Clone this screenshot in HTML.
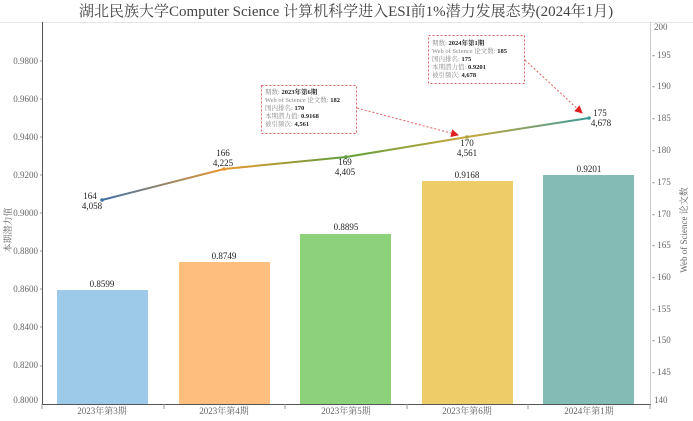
<!DOCTYPE html>
<html><head><meta charset="utf-8"><style>
body{margin:0;background:#fff}
svg{font-family:"Liberation Serif","Noto Serif CJK SC",serif}
</style></head><body>
<svg width="693" height="416" viewBox="0 0 693 416" xmlns="http://www.w3.org/2000/svg">
<defs>
<linearGradient id="lg" x1="102" y1="0" x2="589" y2="0" gradientUnits="userSpaceOnUse">
<stop offset="0" stop-color="#3f6fa8"/><stop offset="0.25" stop-color="#e8982e"/><stop offset="0.5" stop-color="#5f9e3a"/><stop offset="0.75" stop-color="#c8a63a"/><stop offset="1" stop-color="#3f9a9a"/>
</linearGradient>
<marker id="ar" markerWidth="8" markerHeight="8" refX="7" refY="4" orient="auto" markerUnits="userSpaceOnUse"><path d="M0,0 L8,4 L0,8z" fill="#e02020"/></marker>
</defs>
<text x="346" y="16" text-anchor="middle" font-size="15" fill="#444">湖北民族大学Computer Science  计算机科学进入ESI前1%潜力发展态势(2024年1月)</text>
<line x1="0" y1="22.5" x2="693" y2="22.5" stroke="#e6e6e6"/>
<rect x="57" y="290" width="91" height="114" fill="#9ecae9"/>
<rect x="179" y="262" width="91" height="142" fill="#fdbe7e"/>
<rect x="300" y="234" width="91" height="170" fill="#8dd17b"/>
<rect x="422" y="181" width="91" height="223" fill="#eecd68"/>
<rect x="543" y="175" width="91" height="229" fill="#84bbb4"/>
<g font-size="9" text-anchor="middle" fill="#222">
<text x="102" y="287">0.8599</text><text x="224" y="259">0.8749</text><text x="346" y="230">0.8895</text><text x="467" y="178">0.9168</text><text x="589" y="172">0.9201</text>
</g>
<line x1="42.5" y1="22" x2="42.5" y2="404" stroke="#555"/>
<line x1="42" y1="404.5" x2="651" y2="404.5" stroke="#555"/>
<line x1="650.5" y1="22" x2="650.5" y2="404" stroke="#ccc"/>
<g font-size="9" fill="#666" text-anchor="end">
<text x="38" y="64">0.9800</text><text x="38" y="102">0.9600</text><text x="38" y="140">0.9400</text><text x="38" y="178">0.9200</text><text x="38" y="216">0.9000</text><text x="38" y="254">0.8800</text><text x="38" y="292">0.8600</text><text x="38" y="330">0.8400</text><text x="38" y="368">0.8200</text><text x="38" y="403">0.8000</text>
</g>
<g stroke="#999"><line x1="40" y1="61" x2="42" y2="61"/><line x1="40" y1="99" x2="42" y2="99"/><line x1="40" y1="137" x2="42" y2="137"/><line x1="40" y1="175" x2="42" y2="175"/><line x1="40" y1="213" x2="42" y2="213"/><line x1="40" y1="251" x2="42" y2="251"/><line x1="40" y1="289" x2="42" y2="289"/><line x1="40" y1="327" x2="42" y2="327"/><line x1="40" y1="366" x2="42" y2="366"/>
<line x1="42" y1="404" x2="42" y2="409"/><line x1="164" y1="404" x2="164" y2="409"/><line x1="285" y1="404" x2="285" y2="409"/><line x1="407" y1="404" x2="407" y2="409"/><line x1="528" y1="404" x2="528" y2="409"/><line x1="650" y1="404" x2="650" y2="409"/></g>
<g font-size="9" fill="#666">
<text x="654" y="30">200</text><text x="652" y="58">- 195</text><text x="652" y="89">- 190</text><text x="652" y="121">- 185</text><text x="652" y="153">- 180</text><text x="652" y="185">- 175</text><text x="652" y="217">- 170</text><text x="652" y="248">- 165</text><text x="652" y="280">- 160</text><text x="652" y="312">- 155</text><text x="652" y="343">- 150</text><text x="652" y="375">- 145</text><text x="654" y="403">140</text>
</g>
<g font-size="9" fill="#666" text-anchor="middle">
<text x="102" y="414">2023年第3期</text><text x="224" y="414">2023年第4期</text><text x="346" y="414">2023年第5期</text><text x="467" y="414">2023年第6期</text><text x="589" y="414">2024年第1期</text>
</g>
<text transform="translate(11,230) rotate(-90)" font-size="9" fill="#666" text-anchor="middle">本期潜力值</text>
<text transform="translate(687,230) rotate(-90)" font-size="9" fill="#666" text-anchor="middle">Web of Science 论文数</text>
<polyline points="102,200 224,169 346,157 467,137 589,118" fill="none" stroke="url(#lg)" stroke-width="2"/>
<g><circle cx="102" cy="200" r="1.8" fill="#3f6fa8"/><circle cx="224" cy="169" r="1.8" fill="#e8982e"/><circle cx="346" cy="157" r="1.8" fill="#5f9e3a"/><circle cx="467" cy="137" r="1.8" fill="#b0a040"/><circle cx="589" cy="118" r="1.8" fill="#3f9a9a"/></g>
<g font-size="9" fill="#222" text-anchor="middle">
<text x="90" y="199">164</text><text x="92" y="209">4,058</text>
<text x="223" y="156">166</text><text x="223" y="166">4,225</text>
<text x="345" y="165">169</text><text x="345" y="175">4,405</text>
<text x="467" y="146">170</text><text x="467" y="156">4,561</text>
<text x="600" y="116">175</text><text x="601" y="126">4,678</text>
</g>
<rect x="261.5" y="85.5" width="95" height="48" fill="#fff" stroke="#e06060" stroke-dasharray="2,2"/>
<g font-size="6.5" fill="#888"><text x="265" y="94">期数: <tspan fill="#222" font-weight="bold">2023年第6期</tspan></text><text x="265" y="102">Web of Science 论文数: <tspan fill="#222" font-weight="bold">182</tspan></text><text x="265" y="110">国内排名: <tspan fill="#222" font-weight="bold">170</tspan></text><text x="265" y="118">本期潜力值: <tspan fill="#222" font-weight="bold">0.9168</tspan></text><text x="265" y="126">被引频次: <tspan fill="#222" font-weight="bold">4,561</tspan></text></g>
<rect x="428.5" y="35.5" width="96" height="48" fill="#fff" stroke="#e06060" stroke-dasharray="2,2"/>
<g font-size="6.5" fill="#888"><text x="432" y="45">期数: <tspan fill="#222" font-weight="bold">2024年第1期</tspan></text><text x="432" y="53">Web of Science 论文数: <tspan fill="#222" font-weight="bold">185</tspan></text><text x="432" y="61">国内排名: <tspan fill="#222" font-weight="bold">175</tspan></text><text x="432" y="69">本期潜力值: <tspan fill="#222" font-weight="bold">0.9201</tspan></text><text x="432" y="77">被引频次: <tspan fill="#222" font-weight="bold">4,678</tspan></text></g>
<line x1="357" y1="108" x2="458" y2="135" stroke="#e06060" stroke-dasharray="2,2" marker-end="url(#ar)"/>
<line x1="525" y1="60" x2="582" y2="113" stroke="#e06060" stroke-dasharray="2,2" marker-end="url(#ar)"/>
</svg>
</body></html>
